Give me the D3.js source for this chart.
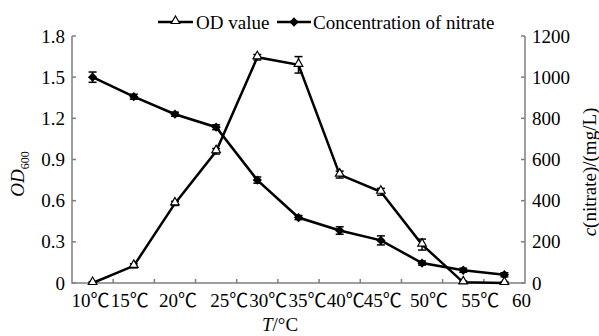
<!DOCTYPE html>
<html>
<head>
  <script src="https://cdnjs.cloudflare.com/ajax/libs/d3/7.8.5/d3.min.js"></script>
  <style>
    body {
      margin: 0;
      background: white;
    }
    text {
      font-family: "Liberation Serif", "Times New Roman", "Noto Sans CJK SC", serif;
      fill: black;
    }
    .axis-line {
      stroke: #7f7f7f;
      stroke-width: 1.5px;
      fill: none;
    }
    .series-line {
      fill: none;
      stroke: black;
      stroke-width: 2.5px;
    }
    .err {
      stroke: black;
      stroke-width: 1.5px;
    }
  </style>
</head>
<body>
  <div id="chart"></div>

  <script>
    // Temperature categories (tick labels)
    const temps = ["10℃", "15℃", "20℃", "25℃", "30℃", "35℃", "40℃", "45℃", "50℃", "55℃", "60"];

    // OD600 values and errors
    const odValues = [0, 0.125, 0.58, 0.96, 1.645, 1.59, 0.79, 0.665, 0.28, 0.005, 0];
    const odErrors = [0.01, 0.015, 0.015, 0.02, 0.02, 0.06, 0.025, 0.025, 0.04, 0.01, 0.01];

    // Nitrate concentration (mg/L) and errors
    const nitrateValues = [1000, 905, 820, 757, 500, 318, 255, 207, 97, 62, 40];
    const nitrateErrors = [25, 12, 10, 12, 15, 10, 18, 22, 10, 10, 10];

    // Ticks
    const odTicks = [0, 0.3, 0.6, 0.9, 1.2, 1.5, 1.8];
    const nitrateTicks = [0, 200, 400, 600, 800, 1000, 1200];

    // the original has its category labels shifted by hand
    const labelNudge = [-2, -4, 3, 13, 11, 9, 6, 2, 7, 17, 17];

    const width = 599;
    const height = 336;
    const plot = { left: 72, right: 525, top: 36, bottom: 283 };

    const svg = d3.select("#chart")
      .append("svg")
      .attr("width", width)
      .attr("height", height);

    const x = d3.scaleBand()
      .domain(temps)
      .range([plot.left, plot.right])
      .padding(0);

    const yOD = d3.scaleLinear().domain([0, 1.8]).range([plot.bottom, plot.top]);
    const yNit = d3.scaleLinear().domain([0, 1200]).range([plot.bottom, plot.top]);

    // Axes frame (left, bottom, right)
    svg.append("path")
      .attr("class", "axis-line")
      .attr("d", `M${plot.left},${plot.top} V${plot.bottom} H${plot.right} V${plot.top}`);

    // Left ticks
    odTicks.forEach(t => {
      svg.append("line").attr("class", "axis-line")
        .attr("x1", plot.left).attr("x2", plot.left + 4)
        .attr("y1", yOD(t)).attr("y2", yOD(t));
      svg.append("text")
        .attr("x", plot.left - 7).attr("y", yOD(t))
        .attr("dy", "0.35em")
        .attr("text-anchor", "end")
        .style("font-size", "19px")
        .text(t === 0 ? "0" : t.toFixed(1));
    });

    // Right ticks
    nitrateTicks.forEach(t => {
      svg.append("line").attr("class", "axis-line")
        .attr("x1", plot.right - 4).attr("x2", plot.right)
        .attr("y1", yNit(t)).attr("y2", yNit(t));
      svg.append("text")
        .attr("x", plot.right + 7).attr("y", yNit(t))
        .attr("dy", "0.35em")
        .style("font-size", "19px")
        .text(t);
    });

    // Bottom ticks at category boundaries
    temps.slice(1).forEach(c => {
      svg.append("line").attr("class", "axis-line")
        .attr("x1", x(c)).attr("x2", x(c))
        .attr("y1", plot.bottom).attr("y2", plot.bottom - 4);
    });

    temps.forEach((c, i) => {
      svg.append("text")
        .attr("x", x(c) + x.bandwidth() / 2 + labelNudge[i])
        .attr("y", plot.bottom + 24)
        .attr("text-anchor", "middle")
        .style("font-size", "19px")
        .text(c);
    });

    // Axis titles
    svg.append("text")
      .attr("x", 280).attr("y", 331)
      .attr("text-anchor", "middle")
      .style("font-size", "19px")
      .html('<tspan font-style="italic">T</tspan>/°C');

    svg.append("text")
      .attr("transform", "translate(24,174) rotate(-90)")
      .attr("text-anchor", "middle")
      .style("font-size", "19px")
      .html('<tspan font-style="italic">OD</tspan><tspan font-size="12px" dy="5">600</tspan>');

    svg.append("text")
      .attr("transform", "translate(596,172) rotate(-90)")
      .attr("text-anchor", "middle")
      .style("font-size", "19px")
      .html('<tspan font-style="italic">c</tspan>(nitrate)/(mg/L)');

    const cx = (d, i) => x(temps[i]) + x.bandwidth() / 2;

    // Lines
    const odLine = d3.line().x(cx).y(d => yOD(d));
    const nitLine = d3.line().x(cx).y(d => yNit(d));

    svg.append("path").attr("class", "series-line").attr("d", nitLine(nitrateValues));
    svg.append("path").attr("class", "series-line").attr("d", odLine(odValues));

    // Error bars
    function errorBars(values, errors, y) {
      values.forEach((v, i) => {
        const px = cx(v, i);
        const y1 = y(v + errors[i]), y2 = y(Math.max(0, v - errors[i]));
        svg.append("line").attr("class", "err")
          .attr("x1", px).attr("x2", px).attr("y1", y1).attr("y2", y2);
        [y1, y2].forEach(yy => {
          svg.append("line").attr("class", "err")
            .attr("x1", px - 4).attr("x2", px + 4).attr("y1", yy).attr("y2", yy);
        });
      });
    }
    errorBars(nitrateValues, nitrateErrors, yNit);
    errorBars(odValues, odErrors, yOD);

    const diamond = d3.symbol().type(d3.symbolDiamond2).size(55);
    const triangle = d3.symbol().type(d3.symbolTriangle).size(32);

    svg.selectAll(".nit-pt")
      .data(nitrateValues)
      .enter()
      .append("path")
      .attr("class", "nit-pt")
      .attr("transform", (d, i) => `translate(${cx(d, i)},${yNit(d)})`)
      .attr("d", diamond)
      .attr("fill", "black");

    svg.selectAll(".od-pt")
      .data(odValues)
      .enter()
      .append("path")
      .attr("class", "od-pt")
      .attr("transform", (d, i) => `translate(${cx(d, i)},${yOD(d) - 1})`)
      .attr("d", triangle)
      .attr("fill", "white")
      .attr("stroke", "black")
      .attr("stroke-width", 1.2);

    // Legend
    const ly = 22;
    svg.append("line").attr("class", "series-line")
      .attr("x1", 158).attr("x2", 193).attr("y1", ly).attr("y2", ly);
    svg.append("path")
      .attr("transform", `translate(175.5,${ly - 1})`)
      .attr("d", triangle)
      .attr("fill", "white").attr("stroke", "black").attr("stroke-width", 1.2);
    svg.append("text")
      .attr("x", 196).attr("y", ly).attr("dy", "0.35em")
      .style("font-size", "19px")
      .text("OD value");

    svg.append("line").attr("class", "series-line")
      .attr("x1", 277).attr("x2", 311).attr("y1", ly).attr("y2", ly);
    svg.append("path")
      .attr("transform", `translate(294,${ly})`)
      .attr("d", diamond)
      .attr("fill", "black");
    svg.append("text")
      .attr("x", 313).attr("y", ly).attr("dy", "0.35em")
      .style("font-size", "19px")
      .text("Concentration of nitrate");
  </script>
</body>
</html>
